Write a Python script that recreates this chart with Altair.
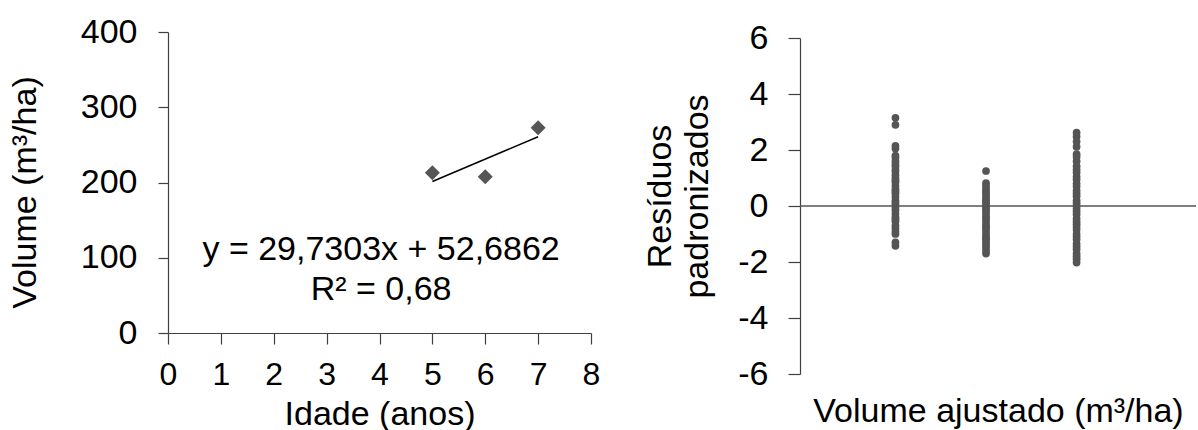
import altair as alt
import pandas as pd

FONT = "Liberation Sans"
FS = 34
INK = "#555555"
AXIS = "#404040"

# Stand volume by age (left panel)
idade = [5, 6, 7]
volume = [213.1, 207.5, 272.6]

# Linear fit reported on the panel
slope = 29.7303
intercept = 52.6862
r2_text = "R² = 0,68"
eq_text = "y = 29,7303x + 52,6862"
fit_ages = [5, 7]

# Standardized residuals at each fitted volume (right panel)
res_age5 = [3.15, 2.9, 2.15, 2.05, 1.8, 1.72, 1.6, 1.5, 1.42, 1.3, 1.22, 1.1,
            1.0, 0.92, 0.85, 0.72, 0.6, 0.52, 0.45, 0.32, 0.2, 0.12, 0.05,
            -0.05, -0.15, -0.28, -0.4, -0.48, -0.55, -0.7, -0.8, -0.92, -1.0,
            -1.3, -1.42]
res_age6 = [1.25, 0.82, 0.72, 0.62, 0.52, 0.45, 0.35, 0.25, 0.18, 0.1, 0.0,
            -0.06, -0.15, -0.25, -0.35, -0.42, -0.5, -0.6, -0.7, -0.76, -0.85,
            -0.95, -1.05, -1.15, -1.2, -1.3, -1.4, -1.5, -1.6, -1.7]
res_age7 = [2.62, 2.48, 2.3, 2.12, 1.85, 1.75, 1.6, 1.42, 1.3, 1.2, 1.05, 0.95,
            0.8, 0.7, 0.55, 0.45, 0.35, 0.2, 0.1, 0.0, -0.1, -0.2, -0.3, -0.45,
            -0.55, -0.65, -0.75, -0.85, -1.0, -1.1, -1.2, -1.35, -1.45, -1.55,
            -1.7, -1.8, -1.9, -2.02]

# Annotation anchor in data units of the left panel
eq_x = 4.03
eq_y = [110, 57]

pts_df = pd.DataFrame({"idade": idade, "volume": volume})
fit_df = pd.DataFrame({"idade": fit_ages,
                       "volume": [intercept + slope * a for a in fit_ages]})
txt_df = pd.DataFrame({"x": [eq_x, eq_x], "y": eq_y, "t": [eq_text, r2_text]})

rows = []
for age, vals in zip(idade, [res_age5, res_age6, res_age7]):
    fitted = intercept + slope * age
    for v in vals:
        rows.append({"ajustado": fitted, "residuo": v})
res_df = pd.DataFrame(rows)
zero_df = pd.DataFrame({"y": [0]})

axis_style = dict(
    domainColor=AXIS, domainWidth=1.2, tickColor=AXIS, tickWidth=1.2,
    labelFont=FONT, labelFontSize=FS, labelColor="black",
    titleFont=FONT, titleFontSize=FS, titleColor="black", titleFontWeight="normal",
    grid=False,
)
# plain hyphen for negative tick labels
plain_labels = "'' + datum.value"

x_left = alt.X(
    "idade:Q",
    scale=alt.Scale(domain=[0, 8], nice=False),
    axis=alt.Axis(values=list(range(9)), title="Idade (anos)", tickSize=11,
                  labelPadding=15, labelFlush=False, labelOverlap=False,
                  titleBaseline="alphabetic", titleY=91,
                  **{**axis_style, "labelFontSize": 32}),
)
y_left = alt.Y(
    "volume:Q",
    scale=alt.Scale(domain=[0, 400], nice=False),
    axis=alt.Axis(values=[0, 100, 200, 300, 400], title="Volume (m³/ha)",
                  tickSize=10, labelPadding=21, labelFlush=False,
                  labelOverlap=False, titleAngle=270,
                  titleBaseline="middle", titleAlign="center",
                  titleX=-143, titleY=160, **axis_style),
)

left_pts = alt.Chart(pts_df).mark_point(
    shape="diamond", filled=True, size=225, color=INK, opacity=1
).encode(x=x_left, y=y_left)

left_fit = alt.Chart(fit_df).mark_line(color="black", strokeWidth=1.5).encode(
    x="idade:Q", y="volume:Q"
)

left_txt = alt.Chart(txt_df).mark_text(
    font=FONT, fontSize=FS, color="black", align="center", baseline="middle"
).encode(x="x:Q", y="y:Q", text="t:N")

left = alt.layer(left_fit, left_pts, left_txt).properties(width=423, height=301)

x_right = alt.X(
    "ajustado:Q",
    scale=alt.Scale(domain=[170, 300], nice=False, zero=False),
    axis=alt.Axis(title="Volume ajustado (m³/ha)", labels=False, ticks=False,
                  domain=False, titleBaseline="alphabetic", titleY=47,
                  **axis_style),
)
y_right = alt.Y(
    "residuo:Q",
    scale=alt.Scale(domain=[-6, 6], range=[342, 6], nice=False),
    axis=alt.Axis(values=[-6, -4, -2, 0, 2, 4, 6], labelExpr=plain_labels,
                  title=["Resíduos", "padronizados"], tickSize=12,
                  labelPadding=20, labelFlush=False, labelOverlap=False,
                  titleAngle=270, titleBaseline="middle",
                  titleAlign="center", titleX=-140, titleY=164,
                  titleLineHeight=37, **axis_style),
)

right_zero = alt.Chart(zero_df).mark_rule(color=INK, strokeWidth=1.6).encode(
    y=alt.Y("y:Q", scale=alt.Scale(domain=[-6, 6], range=[342, 6], nice=False))
)
right_pts = alt.Chart(res_df).mark_circle(size=60, color=INK, opacity=1).encode(
    x=x_right, y=y_right
)

right = alt.layer(right_zero, right_pts).properties(width=396, height=342)

chart = alt.hconcat(left, right, spacing=209, bounds="flush").properties(
    padding={"left": 8, "top": 15, "right": 0, "bottom": 0},
    background="white",
).configure_view(strokeWidth=0)

chart.save("out.html", embed_options={"renderer": "svg", "actions": False})
